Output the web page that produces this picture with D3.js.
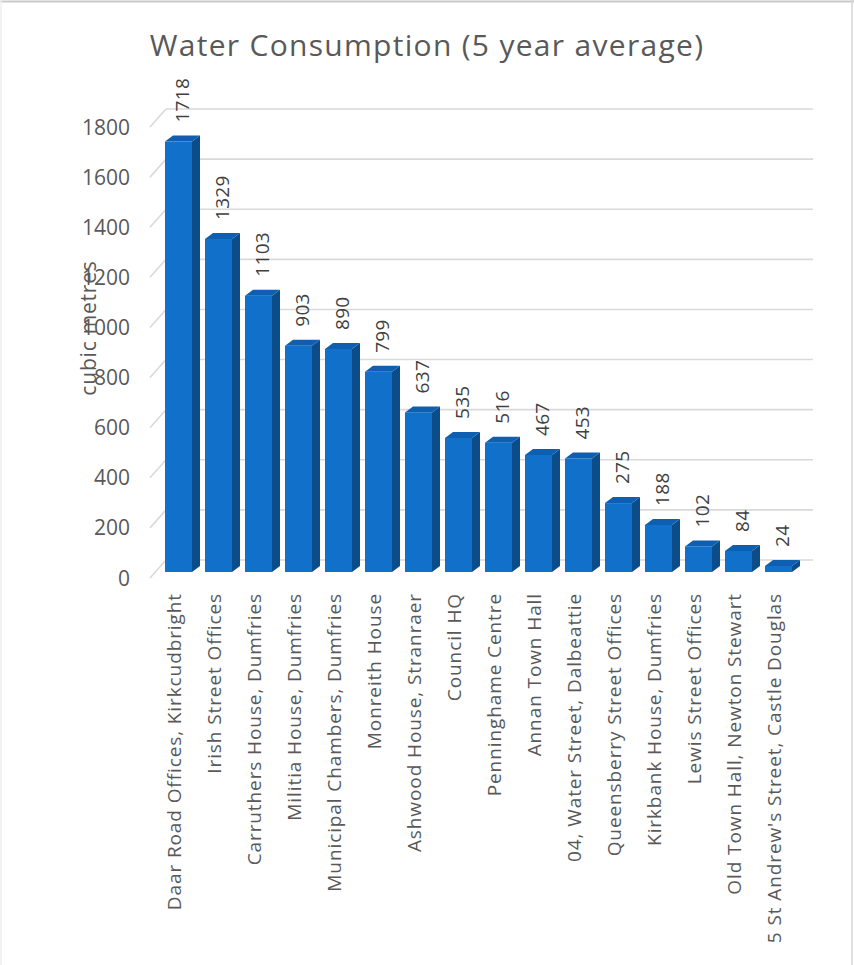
<!DOCTYPE html>
<html>
<head>
<meta charset="utf-8">
<script src="https://cdnjs.cloudflare.com/ajax/libs/d3/7.8.5/d3.min.js"></script>
<style>
  html, body { margin: 0; padding: 0; background: #fff; }
  svg { display: block; }
  text { font-family: "Open Sans", "Liberation Sans", sans-serif; }
</style>
</head>
<body>
<div id="chart"></div>
<script>
const categories = [
  "Daar Road Offices, Kirkcudbright",
  "Irish Street Offices",
  "Carruthers House, Dumfries",
  "Militia House, Dumfries",
  "Municipal Chambers, Dumfries",
  "Monreith House",
  "Ashwood House, Stranraer",
  "Council HQ",
  "Penninghame Centre",
  "Annan Town Hall",
  "04, Water Street, Dalbeattie",
  "Queensberry Street Offices",
  "Kirkbank House, Dumfries",
  "Lewis Street Offices",
  "Old Town Hall, Newton Stewart",
  "5 St Andrew's Street, Castle Douglas"
];
const values = [1718, 1329, 1103, 903, 890, 799, 637, 535, 516, 467, 453, 275, 188, 102, 84, 24];
const yTicks = [0, 200, 400, 600, 800, 1000, 1200, 1400, 1600, 1800];
const titleText = "Water Consumption (5 year average)";
const yAxisTitle = "cubic metres";

const W = 854, H = 965;
const svg = d3.select("#chart").append("svg").attr("width", W).attr("height", H);

// frame
svg.append("line").attr("x1", 0).attr("x2", W).attr("y1", 1.5).attr("y2", 1.5)
  .attr("stroke", "#c9c9c9").attr("stroke-width", 2);
svg.append("line").attr("x1", 852).attr("x2", 852).attr("y1", 0).attr("y2", H)
  .attr("stroke", "#d6d6d6").attr("stroke-width", 1.5);
svg.append("line").attr("x1", 1).attr("x2", 1).attr("y1", 0).attr("y2", H)
  .attr("stroke", "#efefef").attr("stroke-width", 1.5);

// geometry
const baseY = 572;          // bar front base
const frontOff = 6;         // front (axis) offset below bars
const backOff = -12;        // back wall offset
const frontX = 150, backX = 166, gridEnd = 813;
const depthX = 8, depthY = -6;

const y = d3.scaleLinear().domain([0, 1800]).range([baseY, baseY - 451]);
const x = d3.scaleBand().domain(categories).range([158.5, 798.5])
  .paddingInner(0.325).paddingOuter(0.1625);

// back wall gridlines
const grid = svg.append("g").attr("stroke", "#d9d9d9").attr("stroke-width", 1.6).attr("fill", "none");
grid.selectAll("line.back").data(yTicks).join("line").attr("class", "back")
  .attr("x1", backX).attr("x2", gridEnd)
  .attr("y1", d => y(d) + backOff).attr("y2", d => y(d) + backOff);
grid.selectAll("line.side").data(yTicks).join("line").attr("class", "side")
  .attr("x1", frontX).attr("x2", backX)
  .attr("y1", d => y(d) + frontOff).attr("y2", d => y(d) + backOff);

// y tick labels
svg.append("g").selectAll("text").data(yTicks).join("text")
  .attr("x", 130).attr("y", d => y(d) + frontOff)
  .attr("dy", "0.36em").attr("text-anchor", "end")
  .attr("font-size", 21).attr("fill", "#595959")
  .text(d => d);

// bars
const bars = svg.append("g").selectAll("g").data(categories.map((c, i) => ({c, v: values[i]}))).join("g");
bars.append("rect")
  .attr("x", d => x(d.c)).attr("y", d => y(d.v))
  .attr("width", x.bandwidth()).attr("height", d => baseY - y(d.v))
  .attr("fill", "#1170CA");
bars.append("path")
  .attr("d", d => {
    const x1 = x(d.c) + x.bandwidth(), t = y(d.v);
    return `M${x1},${t}L${x1 + depthX},${t + depthY}L${x1 + depthX},${baseY + depthY}L${x1},${baseY}Z`;
  })
  .attr("fill", "#0B4C89");
bars.append("path")
  .attr("d", d => {
    const x0 = x(d.c), x1 = x0 + x.bandwidth(), t = y(d.v);
    return `M${x0},${t}L${x0 + depthX},${t + depthY}L${x1 + depthX},${t + depthY}L${x1},${t}Z`;
  })
  .attr("fill", "#0E5FB0");

// value labels
bars.append("text")
  .attr("transform", d => `translate(${x(d.c) + x.bandwidth() / 2 + 4},${y(d.v) + depthY - 13}) rotate(-90)`)
  .attr("dy", "0.36em")
  .attr("font-size", 19).attr("letter-spacing", 0.3).attr("fill", "#404040")
  .text(d => d.v);

// category labels
svg.append("g").selectAll("text").data(categories).join("text")
  .attr("transform", d => `translate(${x(d) + x.bandwidth() / 2 - 4},593) rotate(-90)`)
  .attr("dy", "0.36em").attr("text-anchor", "end")
  .attr("font-size", 19).attr("letter-spacing", 0.9).attr("fill", "#595959")
  .text(d => d);

// y axis title
svg.append("text")
  .attr("transform", "translate(88,328) rotate(-90)")
  .attr("dy", "0.36em").attr("text-anchor", "middle")
  .attr("font-size", 21).attr("letter-spacing", 0.8).attr("fill", "#595959")
  .text(yAxisTitle);

// title
svg.append("text")
  .attr("x", 427).attr("y", 56).attr("text-anchor", "middle")
  .attr("font-size", 30).attr("letter-spacing", 1.3).attr("fill", "#595959")
  .text(titleText);
</script>
</body>
</html>
